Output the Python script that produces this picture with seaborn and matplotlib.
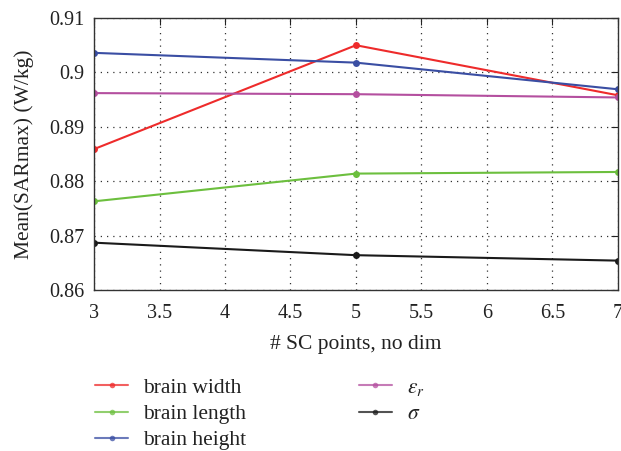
import numpy as np
import pandas as pd
import matplotlib
matplotlib.use("Agg")
import matplotlib.pyplot as plt
import seaborn as sns

sc_points = [3, 5, 7]
brain_width = [0.8859, 0.9050, 0.8958]
brain_length = [0.8763, 0.8814, 0.8817]
brain_height = [0.9036, 0.9018, 0.8969]
eps_r = [0.8962, 0.8960, 0.8954]
sigma = [0.8687, 0.8664, 0.8654]

series_names = ["brain width", "brain length", "brain height", r"$\varepsilon_r$", r"$\sigma$"]
series_values = [brain_width, brain_length, brain_height, eps_r, sigma]
colors = ["#ee2b2b", "#6cbf3e", "#3a4ea3", "#b44f9f", "#1a1a1a"]

x_ticks = [3, 3.5, 4, 4.5, 5, 5.5, 6, 6.5, 7]
x_tick_labels = ["3", "3.5", "4", "4.5", "5", "5.5", "6", "6.5", "7"]
y_ticks = [0.86, 0.87, 0.88, 0.89, 0.90, 0.91]
y_tick_labels = ["0.86", "0.87", "0.88", "0.89", "0.9", "0.91"]

df = pd.DataFrame({
    "points": np.tile(sc_points, len(series_names)),
    "value": np.concatenate(series_values),
    "series": np.repeat(series_names, len(sc_points)),
})

sns.set_style("white")
plt.rcParams["font.family"] = ["Liberation Serif", "DejaVu Serif"]
plt.rcParams["mathtext.fontset"] = "stix"

fig = plt.figure(figsize=(6.21, 4.51), dpi=100)
ax = fig.add_axes([0.1514, 0.357, 0.8436, 0.603])

sns.lineplot(data=df, x="points", y="value", hue="series", hue_order=series_names,
             palette=colors, marker="o", markersize=5, markeredgewidth=0,
             linewidth=1.5, ax=ax, legend=False)

ax.set_xlim(3, 7)
ax.set_ylim(0.86, 0.91)
ax.set_xticks(x_ticks)
ax.set_xticklabels(x_tick_labels)
ax.set_yticks(y_ticks)
ax.set_yticklabels(y_tick_labels)
ax.grid(True, linestyle=(0, (1, 4)), color="#333333", linewidth=0.9)
ax.tick_params(direction="in", top=True, right=True, labelsize=14.5, length=5,
               width=0.8, colors="#222222")
ax.tick_params(axis="x", pad=10)
ax.tick_params(axis="y", pad=7)
for s in ax.spines.values():
    s.set_color("#333333")
    s.set_linewidth(1.0)
ax.set_xlabel("# SC points, no dim", fontsize=15.5, color="#222222", labelpad=9)
ax.set_ylabel("Mean(SARmax) (W/kg)", fontsize=15.5, color="#222222", labelpad=11)

handles = [plt.Line2D([], [], color=c, marker="o", markersize=4, markeredgewidth=0,
                      linewidth=1.5, alpha=0.75) for c in colors]
fig.legend(handles, series_names, ncol=2, frameon=False, fontsize=15.5,
           loc="upper left", bbox_to_anchor=(0.153, 0.162), borderpad=0,
           borderaxespad=0, handlelength=1.55, handletextpad=0.7,
           columnspacing=5.2, labelspacing=0.28, labelcolor="#222222")

fig.savefig("out.png", dpi=100)
